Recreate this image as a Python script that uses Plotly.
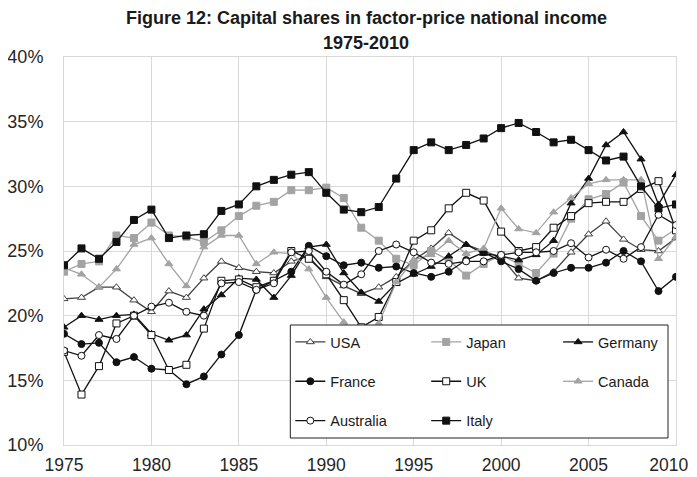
import plotly.graph_objects as go

# Capital shares in factor-price national income, %
years = list(range(1975, 2011))
x_ticks = [1975, 1980, 1985, 1990, 1995, 2000, 2005, 2010]
# trailing no-break spaces nudge the last label left, as in the original
x_tick_labels = ["1975", "1980", "1985", "1990", "1995", "2000", "2005",
                 "2010\u00a0\u00a0\u00a0"]

usa = [21.3, 21.4, 22.2, 22.2, 21.2, 20.3, 21.9, 21.4, 22.9, 24.2, 23.7, 23.4,
       23.3, 24.2, 24.6, 23.0, 22.3, 21.7, 22.2, 23.0, 24.3, 25.2, 26.4, 25.5,
       25.0, 24.5, 22.9, 22.7, 23.4, 24.9, 26.3, 27.3, 25.9, 25.1, 25.0, 26.0]
japan = [23.4, 24.0, 24.2, 26.2, 26.0, 27.2, 26.2, 26.1, 25.7, 26.6, 27.7, 28.5,
         28.8, 29.7, 29.7, 29.9, 29.1, 26.8, 25.8, 24.4, 23.9, 25.0, 24.3, 23.1,
         24.0, 24.7, 24.0, 23.3, 24.8, 27.5, 29.0, 29.4, 30.3, 27.7, 25.8, 26.7]
germany = [19.1, 20.0, 19.7, 20.0, 20.1, 18.6, 18.1, 18.5, 20.5, 21.6, 22.9, 22.8,
           21.4, 23.1, 25.3, 25.5, 23.3, 21.8, 21.1, 22.5, 23.2, 23.8, 24.6, 25.5,
           24.8, 24.6, 24.3, 24.7, 25.8, 28.7, 30.6, 33.2, 34.2, 32.1, 28.6, 30.9]
france = [18.6, 17.8, 17.9, 16.4, 16.8, 15.9, 15.8, 14.7, 15.3, 17.0, 18.5, 22.0,
          22.7, 23.4, 25.4, 24.6, 23.9, 24.1, 23.7, 23.8, 23.3, 23.0, 23.4, 24.3,
          24.9, 24.2, 23.6, 22.7, 23.3, 23.7, 23.7, 24.1, 25.0, 24.2, 21.9, 23.0]
uk = [17.2, 13.9, 16.1, 19.4, 20.0, 18.5, 15.8, 16.2, 19.0, 22.7, 22.8, 22.2,
      22.7, 25.0, 24.4, 23.2, 21.2, 19.1, 19.9, 22.6, 25.8, 26.6, 28.3, 29.5,
      28.9, 26.5, 25.0, 25.3, 26.8, 27.7, 28.7, 28.8, 28.8, 29.8, 30.4, 26.6]
canada = [23.7, 23.2, 22.2, 23.6, 25.5, 26.0, 24.0, 22.3, 25.3, 26.2, 26.2, 24.0,
          24.9, 24.8, 23.6, 21.4, 19.5, 18.1, 19.4, 22.6, 24.3, 24.7, 25.8, 24.8,
          25.2, 28.3, 26.7, 26.4, 28.0, 29.1, 30.2, 30.5, 30.5, 30.5, 24.4, 26.1]
australia = [17.3, 16.9, 18.5, 18.2, 20.0, 20.7, 21.0, 20.3, 20.0, 22.5, 22.6, 22.0,
             22.5, 24.9, 25.0, 23.4, 22.4, 23.2, 25.0, 25.5, 24.9, 24.1, 24.0, 24.2,
             24.2, 24.7, 24.9, 24.9, 25.0, 25.6, 24.5, 25.1, 24.4, 25.3, 27.8, 27.0]
italy = [23.9, 25.2, 24.4, 25.7, 27.4, 28.2, 26.0, 26.2, 26.3, 28.1, 28.6, 30.0,
         30.5, 30.9, 31.1, 29.5, 28.2, 28.0, 28.4, 30.6, 32.8, 33.4, 32.8, 33.2,
         33.7, 34.5, 34.9, 34.2, 33.4, 33.6, 32.8, 32.0, 32.3, 30.0, 28.3, 28.6]

BLACK = "#111111"
GREY = "#a3a3a3"
DARK = "#404040"

# name, values, line colour, symbol, fill, legend column
series = [
    ("USA", usa, DARK, "triangle-up", "white", "legend"),
    ("Japan", japan, GREY, "square", GREY, "legend2"),
    ("Germany", germany, BLACK, "triangle-up", BLACK, "legend3"),
    ("France", france, BLACK, "circle", BLACK, "legend"),
    ("UK", uk, BLACK, "square", "white", "legend2"),
    ("Canada", canada, GREY, "triangle-up", GREY, "legend3"),
    ("Australia", australia, BLACK, "circle", "white", "legend"),
    ("Italy", italy, BLACK, "square", BLACK, "legend2"),
]

fig = go.Figure()
for name, vals, col, sym, fill, leg in series:
    fig.add_trace(go.Scatter(
        x=years, y=vals, name=name, mode="lines+markers",
        line=dict(color=col, width=1.3),
        marker=dict(symbol=sym, size=7, color=fill, line=dict(color=col, width=1)),
        legend=leg, legendgroup=name,
    ))

FONT = "Liberation Sans, Arial, sans-serif"

# the page body adds an 8px margin, so the figure sits 8px right and down
OFF = 8
W, H = 697, 477
L, T = 63.5 - OFF, 57 - OFF
R = W - (676 - OFF)
B = H - (445 - OFF)
pw, ph = W - L - R, H - T - B


def px(x):
    # page pixel x -> paper fraction
    return (x - OFF - L) / pw


def py(y):
    # page pixel y -> paper fraction
    return (H - B - (y - OFF)) / ph


leg_common = dict(
    orientation="v", yanchor="top", xanchor="left", y=py(326),
    bgcolor="rgba(0,0,0,0)", borderwidth=0, tracegroupgap=17.5, itemwidth=30,
    font=dict(family=FONT, size=14.5, color="#1a1a1a"),
)

fig.update_layout(
    width=W, height=H,
    margin=dict(l=L, r=R, t=T, b=B, autoexpand=False),
    paper_bgcolor="white", plot_bgcolor="white",
    font=dict(family=FONT, color="#262626"),
    showlegend=True,
    legend=dict(leg_common, x=px(290)),
    legend2=dict(leg_common, x=px(426)),
    legend3=dict(leg_common, x=px(558)),
    xaxis=dict(
        range=[1975, 2010], tickmode="array", tickvals=x_ticks, ticktext=x_tick_labels,
        showgrid=True, automargin=False, ticklabeloverflow="allow",
        gridcolor="#d9d9d9", gridwidth=1, showline=True, linecolor="#d9d9d9",
        mirror=True, zeroline=False, ticks="", ticklabelstandoff=4,
        tickfont=dict(family=FONT, size=17.5, color="#262626"),
    ),
    yaxis=dict(
        range=[10, 40], tick0=10, dtick=5, ticksuffix="%", showgrid=True,
        automargin=False,
        gridcolor="#d9d9d9", gridwidth=1, showline=True, linecolor="#d9d9d9",
        mirror=True, zeroline=False, ticks="", ticklabelstandoff=16,
        tickfont=dict(family=FONT, size=18, color="#262626"),
    ),
    shapes=[dict(
        type="rect", xref="paper", yref="paper",
        x0=px(290), x1=px(668), y0=py(438), y1=py(325),
        fillcolor="white", line=dict(color="#222222", width=1), layer="above",
    )],
    annotations=[
        dict(text="<b>Figure 12: Capital shares in factor-price national income</b>",
             xref="paper", yref="paper", x=px(366), y=py(18), xanchor="center",
             yanchor="middle", showarrow=False,
             font=dict(family=FONT, size=18, color="#1a1a1a")),
        dict(text="<b>1975-2010</b>",
             xref="paper", yref="paper", x=px(366), y=py(43), xanchor="center",
             yanchor="middle", showarrow=False,
             font=dict(family=FONT, size=18, color="#1a1a1a")),
    ],
)

fig.write_html("out.html")
